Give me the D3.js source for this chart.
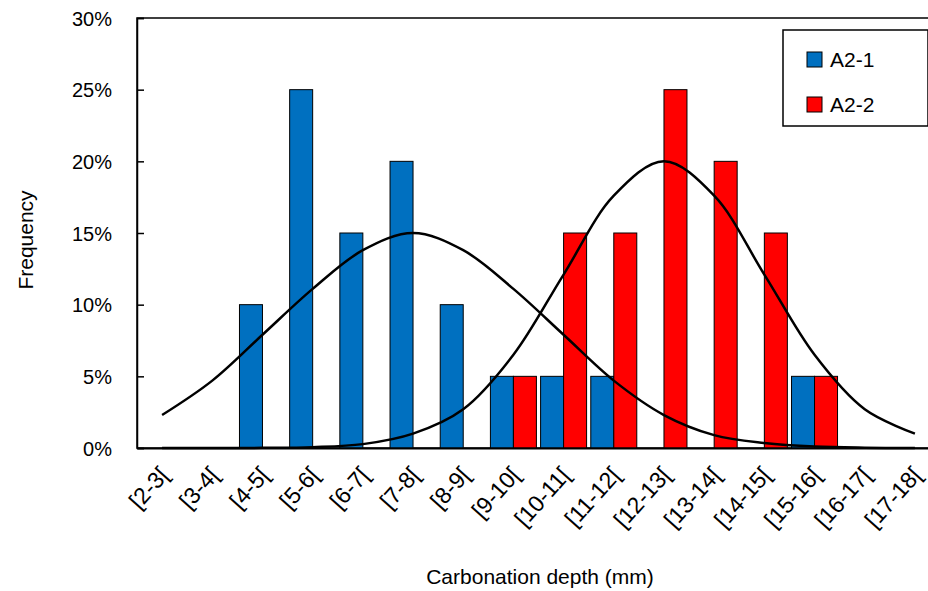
<!DOCTYPE html><html><head><script src="https://cdn.jsdelivr.net/npm/d3@7"></script>
<style>body{margin:0;background:#fff}text{font-family:"Liberation Sans",Arial,sans-serif;fill:#000}</style></head><body>
<svg id="c" width="928" height="591"></svg>
<script>
const categories=["[2-3[","[3-4[","[4-5[","[5-6[","[6-7[","[7-8[","[8-9[","[9-10[","[10-11[","[11-12[","[12-13[","[13-14[","[14-15[","[15-16[","[16-17[","[17-18["];
const a21=[0,0,10,25,15,20,10,5,5,5,0,0,0,5,0,0];
const a22=[0,0,0,0,0,0,0,5,15,15,25,20,15,5,0,0];
const fit21=[2.3,4.7,7.9,11.1,13.8,15,13.8,11.1,7.9,4.7,2.3,0.9,0.35,0.1,0.02,0.003];
const fit22=[0,0,0.01,0.06,0.27,1.0,2.7,6.5,12.1,17.6,20,17.6,12.1,6.5,2.7,1.0];
const yTicks=[0,5,10,15,20,25,30];
const svg=d3.select("#c");
const L=137,R=940,T=18,B=448;
const x=d3.scaleBand().domain(categories).range([L,R]);
const y=d3.scaleLinear().domain([0,30]).range([B,T]);
const bw=23;
const g=svg.append("g");
g.append("rect").attr("x",L).attr("y",T).attr("width",R-L).attr("height",B-T).attr("fill","none").attr("stroke","#000").attr("stroke-width",1.5);
const cx=c=>x(c)+x.bandwidth()/2;
g.selectAll(".b1").data(categories).join("rect").attr("x",c=>cx(c)-bw).attr("width",bw)
 .attr("y",(c,i)=>y(a21[i])).attr("height",(c,i)=>B-y(a21[i])).attr("fill","#0070c0").attr("stroke","#000").attr("stroke-width",1);
g.selectAll(".b2").data(categories).join("rect").attr("x",c=>cx(c)).attr("width",bw)
 .attr("y",(c,i)=>y(a22[i])).attr("height",(c,i)=>B-y(a22[i])).attr("fill","#ff0000").attr("stroke","#000").attr("stroke-width",1);
const line=d3.line().x((d,i)=>cx(categories[i])).y(d=>y(d)).curve(d3.curveCatmullRom);
[fit21,fit22].forEach(f=>g.append("path").attr("d",line(f)).attr("fill","none").attr("stroke","#000").attr("stroke-width",2.5));
const ya=svg.append("g").attr("transform",`translate(${L},0)`).call(d3.axisLeft(y).tickValues(yTicks).tickFormat(d=>d+"%").tickSize(-7).tickPadding(0));
ya.select(".domain").attr("stroke-width",1.5);
ya.selectAll(".tick line").attr("stroke-width",1.5);
ya.selectAll("text").style("font-size","20px").attr("x",-25).attr("dy","0.35em");
const xa=svg.append("g").attr("transform",`translate(0,${B})`).call(d3.axisBottom(x).tickSize(0).tickSizeOuter(0));
xa.select(".domain").attr("stroke-width",2);
xa.selectAll("text").style("font-size","23px").attr("text-anchor","end").attr("dy","0").attr("y",0)
 .attr("transform","translate(8,28) rotate(-48)");
svg.append("text").attr("transform","translate(33,240) rotate(-90)").attr("text-anchor","middle").style("font-size","21px").text("Frequency");
svg.append("text").attr("x",540).attr("y",584).attr("text-anchor","middle").style("font-size","21px").text("Carbonation depth (mm)");
const lg=svg.append("g");
lg.append("rect").attr("x",783).attr("y",30).attr("width",145).attr("height",96).attr("fill","#fff").attr("stroke","#000").attr("stroke-width",1.5);
[["A2-1","#0070c0"],["A2-2","#ff0000"]].forEach((d,i)=>{
 lg.append("rect").attr("x",807).attr("y",52+i*45).attr("width",15).attr("height",15).attr("fill",d[1]).attr("stroke","#000");
 lg.append("text").attr("x",830).attr("y",67+i*45).style("font-size","21px").text(d[0]);
});
</script></body></html>
